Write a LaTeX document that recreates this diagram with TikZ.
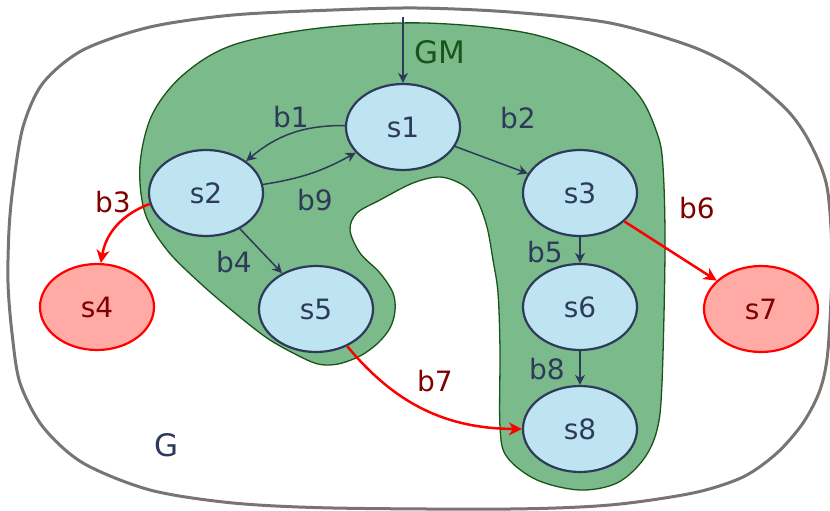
\documentclass[tikz,border=0pt]{standalone}
\usepackage{fontspec}
\setmainfont{DejaVu Sans}
\usetikzlibrary{shapes.geometric,arrows.meta}

\definecolor{navy}{RGB}{46,58,90}
\definecolor{statefill}{RGB}{190,228,242}
\definecolor{badfill}{RGB}{255,170,165}
\definecolor{badtext}{RGB}{128,0,0}
\definecolor{gmfill}{RGB}{123,186,139}
\definecolor{gmline}{RGB}{26,84,26}
\definecolor{gline}{RGB}{122,115,115}

\begin{document}
\begin{tikzpicture}[x=1pt,y=-1pt]
  \useasboundingbox (0,0) rectangle (830,511);

  % the whole graph G
  \draw[gline,line width=3pt] plot[smooth cycle,tension=0.5] coordinates {
    (417,8) (510,12) (610,23) (693,47) (743,73) (787,110) (810,143)
    (827,187) (832,260) (828,350) (820,390) (803,423) (777,453)
    (743,477) (693,493) (610,505) (510,509) (333,508) (233,503)
    (150,490) (83,463) (43,427) (20,383) (12,333) (8,283) (9,230)
    (13,187) (23,127) (43,83) (83,50) (150,27) (233,15) (333,10)};

  % the sub graph GM
  \filldraw[fill=gmfill,draw=gmline,line width=1.3pt] plot[smooth cycle,tension=0.55] coordinates {
    (425,23) (527,33) (593,57) (637,93) (657,133) (663,167) (665,250)
    (662,383) (657,430) (643,460) (617,483) (580,490) (537,480)
    (507,457) (500,427) (500,350) (498,293) (493,260) (487,227)
    (477,200) (463,185) (440,177) (413,183) (380,200) (357,213)
    (350,230) (360,253) (380,273) (393,293) (395,311) (390,328)
    (378,343) (360,356) (338,364) (318,364) (295,354) (267,338)
    (235,313) (200,283) (167,250) (145,213) (140,165) (152,115)
    (183,75) (233,45) (320,28)};

  \begin{scope}[every node/.style={ellipse,draw=navy,fill=statefill,text=navy,
      line width=2.2pt,minimum width=114pt,minimum height=86pt,inner sep=0pt,
      font=\fontsize{28}{34}\selectfont}]
    \node (s1) at (403,127) {s1};
    \node (s2) at (206,193) {s2};
    \node (s3) at (580,193) {s3};
    \node (s5) at (316,309) {s5};
    \node (s6) at (580,307) {s6};
    \node (s8) at (580,429) {s8};
  \end{scope}

  \begin{scope}[every node/.style={ellipse,draw=red,fill=badfill,text=badtext,
      line width=2.2pt,minimum width=114pt,minimum height=86pt,inner sep=0pt,
      font=\fontsize{28}{34}\selectfont}]
    \node (s4) at (97,307) {s4};
    \node (s7) at (761,309) {s7};
  \end{scope}

  \coordinate (init) at (403,17);

  \begin{scope}[every edge/.style={draw,navy,line width=1.5pt,
      -{Stealth[length=10pt,width=10pt,inset=3pt]}}]
    \path (init) edge (s1);
    \path (s1) edge[bend right=20] (s2);
    \path (s2) edge[bend right=10] (s1);
    \path (s1) edge (s3);
    \path (s2) edge (s5);
    \path (s3) edge (s6);
    \path (s6) edge (s8);
  \end{scope}

  \begin{scope}[every edge/.style={draw,red,line width=2.5pt,
      -{Stealth[length=13pt,width=13pt,inset=4pt]}}]
    \path (s2.191) edge[bend right=30] (s4.85);
    \path (s3) edge (s7);
    \path (s5.310) edge[bend right=25] (s8.180);
  \end{scope}

  \begin{scope}[every node/.style={inner sep=0pt,text=navy,font=\fontsize{28}{34}\selectfont}]
    \node (lb1) at (291,117) {b1};
    \node (lb2) at (518,118) {b2};
    \node (lb4) at (234,262) {b4};
    \node (lb5) at (545,252) {b5};
    \node (lb8) at (547,369) {b8};
    \node (lb9) at (315,200) {b9};
    \node[text=badtext] (lb3) at (113,202) {b3};
    \node[text=badtext] (lb6) at (697,208) {b6};
    \node[text=badtext] (lb7) at (435,381) {b7};
  \end{scope}

  \node[text=gmline,inner sep=0pt,font=\fontsize{31}{36}\selectfont] (gm) at (440,52) {GM};
  \node[text=navy,inner sep=0pt,font=\fontsize{31}{36}\selectfont] (g) at (167,445) {G};

\end{tikzpicture}
\end{document}
